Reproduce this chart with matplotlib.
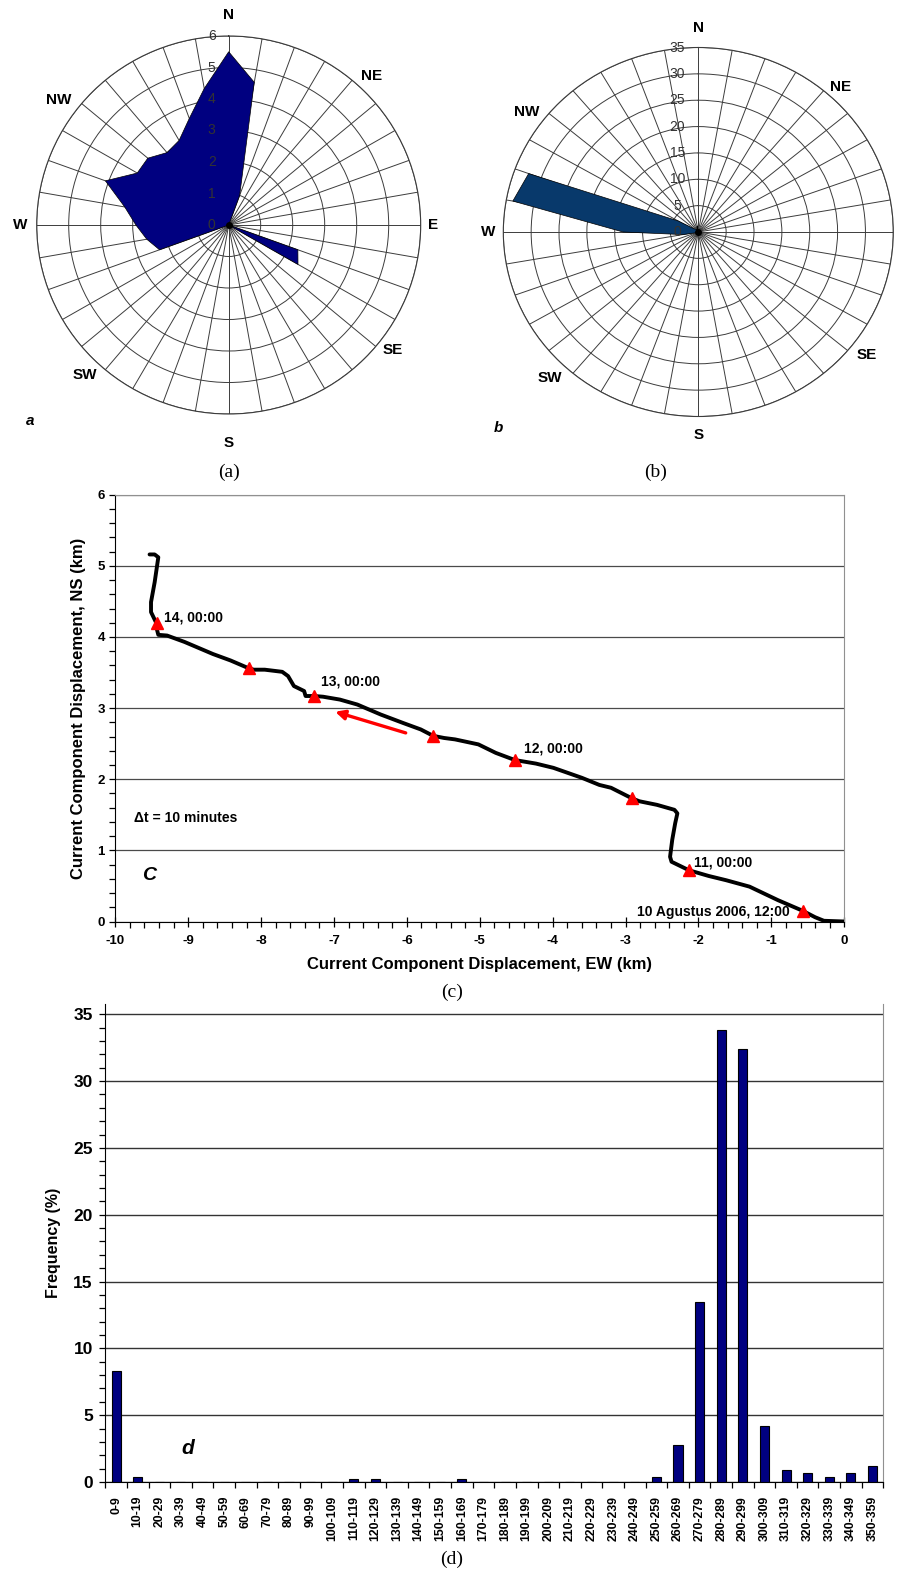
import numpy as np
import matplotlib.pyplot as plt
from matplotlib.ticker import MultipleLocator

plt.rcParams['font.family'] = ['Liberation Sans', 'DejaVu Sans']
plt.rcParams['axes.unicode_minus'] = False

W, H = 904, 1574

# rose diagrams: 36 direction sectors of 10 degrees, frequency (%)
rose_dirs = np.arange(0, 360, 10)
rose_a = [5.5, 4.6, 1.0, 0, 0, 0, 0, 0, 0, 0,
          0, 2.3, 2.5, 0, 0, 0, 0, 0, 0, 0,
          0, 0, 0, 0, 0, 2.3, 2.6, 2.9, 3.3, 4.1,
          3.3, 3.3, 3.0, 3.1, 3.6, 4.4]
rose_b = [0, 0.4, 0, 0, 0, 0, 0, 0, 0, 0,
          0, 0.2, 0.2, 0, 0, 0, 0.2, 0, 0, 0,
          0, 0, 0, 0, 0, 0.4, 2.8, 13.5, 33.8, 32.4,
          4.2, 0.9, 0.7, 0.4, 0.7, 1.2]
compass = ['N', 'NE', 'E', 'SE', 'S', 'SW', 'W', 'NW']

# progressive vector path (km)
track_ew = [0, -0.28, -0.40, -0.57, -0.91, -1.30, -1.62, -1.86, -2.13, -2.37,
            -2.39, -2.36, -2.32, -2.29, -2.33, -2.57, -2.81, -2.91, -3.20, -3.36,
            -3.60, -3.99, -4.23, -4.52, -4.78, -5.02, -5.34, -5.49, -5.64, -5.81,
            -6.05, -6.36, -6.68, -6.92, -7.15, -7.27, -7.39, -7.41, -7.55, -7.63,
            -7.71, -7.95, -8.10, -8.17, -8.42, -8.66, -9.05, -9.29, -9.41, -9.43,
            -9.43, -9.51, -9.51, -9.46, -9.42, -9.41, -9.46, -9.53]
track_ns = [0, 0.01, 0.06, 0.15, 0.30, 0.49, 0.58, 0.64, 0.72, 0.84,
            0.91, 1.15, 1.38, 1.52, 1.57, 1.64, 1.69, 1.73, 1.88, 1.92,
            2.02, 2.16, 2.22, 2.27, 2.37, 2.49, 2.56, 2.58, 2.61, 2.70,
            2.79, 2.91, 3.05, 3.12, 3.16, 3.17, 3.17, 3.24, 3.31, 3.45,
            3.51, 3.54, 3.54, 3.56, 3.67, 3.76, 3.93, 4.02, 4.03, 4.11,
            4.18, 4.35, 4.49, 4.77, 5.05, 5.12, 5.16, 5.16]
mark_ew = [-0.57, -2.13, -2.91, -4.52, -5.64, -7.27, -8.17, -9.43]
mark_ns = [0.15, 0.72, 1.73, 2.27, 2.61, 3.17, 3.56, 4.19]
time_text = ['14, 00:00', '13, 00:00', '12, 00:00', '11, 00:00']
time_ew = [-9.33, -7.18, -4.39, -2.06]
time_ns = [4.27, 3.38, 2.43, 0.83]

# direction histogram
hist_bins = ['%d-%d' % (d, d + 9) for d in range(0, 360, 10)]
hist_freq = [8.3, 0.4, 0, 0, 0, 0, 0, 0, 0, 0,
             0, 0.2, 0.2, 0, 0, 0, 0.2, 0, 0, 0,
             0, 0, 0, 0, 0, 0.4, 2.8, 13.5, 33.8, 32.4,
             4.2, 0.9, 0.7, 0.4, 0.7, 1.2]

fig = plt.figure(figsize=(W / 100, H / 100), dpi=100)


def ftext(x, y, s, **kw):
    fig.text(x / W, 1 - y / H, s, ha='center', va='center', **kw)


def rose(cx, cy, rx, ry, vals, rmax, rstep, fill, labpos, letter, letpos, rdx):
    ax = fig.add_axes([(cx - rx) / W, 1 - (cy + ry) / H, 2 * rx / W, 2 * ry / H],
                      projection='polar')
    ax.set_aspect('auto')
    ax.set_theta_zero_location('N')
    ax.set_theta_direction(-1)
    th = np.deg2rad(rose_dirs)
    ax.fill(np.r_[th, th[:1]], np.r_[vals, vals[:1]], color=fill,
            ec='black', lw=0.5, zorder=2)
    ax.set_rlim(0, rmax)
    rings = np.arange(rstep, rmax + rstep / 2, rstep)
    ax.set_rgrids(rings, labels=[''] * len(rings))
    ax.set_thetagrids(rose_dirs, labels=[''] * len(rose_dirs))
    ax.grid(True, color='#3c3c3c', lw=0.7)
    ax.spines['polar'].set_color('#3c3c3c')
    ax.spines['polar'].set_linewidth(0.8)
    for r in np.r_[0, rings]:
        ax.annotate('%g' % r, xy=(0, r), xytext=(rdx, 0), textcoords='offset pixels',
                    ha='center', va='center', fontsize=10, color='#333333', zorder=5)
    ax.plot([0], [0], 'o', color='black', ms=4, zorder=6)
    for name, (lx, ly) in zip(compass, labpos):
        ftext(lx, ly, name, fontsize=11, fontweight='bold')
    ftext(letpos[0], letpos[1], letter, fontsize=11, fontweight='bold', style='italic')


rose(228.7, 225, 192, 189, rose_a, 6, 1, '#000080',
     [(228.7, 15), (371.7, 76), (433.3, 225), (393, 350), (228.7, 443),
      (85, 375), (20, 225), (58.3, 100)], 'a', (30, 421), -17)
rose(698.3, 232, 195, 184.5, rose_b, 35, 5, '#08396b',
     [(698.3, 28), (840.7, 87), (908, 232), (866.7, 355), (698.3, 435),
      (550, 378), (488, 232), (526.7, 112)], 'b', (498, 428), -21)

serif = ['Liberation Serif', 'DejaVu Serif']
ftext(229, 472, '(a)', fontsize=14, family=serif)
ftext(656, 472, '(b)', fontsize=14, family=serif)
ftext(452, 992, '(c)', fontsize=14, family=serif)
ftext(452, 1559, '(d)', fontsize=14, family=serif)

# panel c
axc = fig.add_axes([115.3 / W, 1 - 921.5 / H, 729 / W, 426.8 / H])
axc.plot(track_ew, track_ns, color='black', lw=2.8, solid_capstyle='round',
         solid_joinstyle='round', zorder=3)
axc.plot(mark_ew, mark_ns, '^', color='#ff0000', ms=9, zorder=4)
for s, x, y in zip(time_text, time_ew, time_ns):
    axc.text(x, y, s, fontsize=10, fontweight='bold', ha='left', va='center')
axc.text(-0.75, 0.14, '10 Agustus 2006, 12:00', fontsize=10, fontweight='bold',
         ha='right', va='center')
axc.text(-9.75, 1.45, '\u0394t = 10 minutes', fontsize=10, fontweight='bold',
         ha='left', va='center')
axc.text(-9.54, 0.65, 'C', fontsize=14, fontweight='bold', style='italic',
         ha='center', va='center')
axc.annotate('', xy=(-7.02, 2.96), xytext=(-5.98, 2.64),
             arrowprops=dict(arrowstyle='-|>', color='#ff0000', lw=2.4,
                             mutation_scale=14))
axc.set_xlim(-10, 0)
axc.set_ylim(0, 6)
axc.xaxis.set_major_locator(MultipleLocator(1))
axc.xaxis.set_minor_locator(MultipleLocator(0.2))
axc.yaxis.set_major_locator(MultipleLocator(1))
axc.yaxis.set_minor_locator(MultipleLocator(0.2))
axc.yaxis.grid(True, color='#4a4a4a', lw=0.9)
axc.tick_params(axis='y', which='both', direction='out', length=4, width=0.9)
axc.tick_params(axis='x', which='major', direction='inout', length=7, width=0.9,
                pad=6)
axc.tick_params(axis='x', which='minor', direction='out', length=4, width=0.9)
axc.tick_params(labelsize=9.5)
for lab in axc.get_xticklabels() + axc.get_yticklabels():
    lab.set_fontweight('bold')
for side in ['top', 'right']:
    axc.spines[side].set_color('#909090')
axc.set_xlabel('Current Component Displacement, EW (km)', fontsize=12,
               fontweight='bold', va='top')
axc.set_ylabel('Current Component Displacement, NS (km)', fontsize=12,
               fontweight='bold')
axc.xaxis.set_label_coords(0.5, -36 / 426.8)
axc.yaxis.set_label_coords(-29 / 729, 0.5)

# panel d
axd = fig.add_axes([105.3 / W, 1 - 1482 / H, 778 / W, 478 / H])
pos = np.arange(len(hist_bins))
axd.bar(pos, hist_freq, width=0.42, color='#000080', edgecolor='black', lw=0.8,
        zorder=3)
axd.set_xlim(-0.5, len(hist_bins) - 0.5)
axd.set_ylim(0, 35 * 478 / 467.7)
axd.set_yticks(np.arange(0, 36, 5))
axd.yaxis.set_minor_locator(MultipleLocator(1))
axd.set_xticks(np.arange(-0.5, len(hist_bins), 1))
axd.set_xticklabels([])
axd.set_xticks(pos, minor=True)
axd.set_xticklabels(hist_bins, minor=True, rotation=90, fontsize=8.8,
                    fontweight='bold')
axd.tick_params(axis='x', which='minor', length=0, pad=10)
axd.tick_params(axis='x', which='major', direction='out', length=4, width=0.9)
axd.tick_params(axis='y', which='both', direction='out', length=4, width=0.9,
                labelsize=12.5, pad=5)
for lab in axd.get_yticklabels():
    lab.set_fontweight('bold')
axd.yaxis.grid(True, color='#333333', lw=1.0)
axd.set_axisbelow(True)
axd.spines['top'].set_visible(False)
axd.spines['right'].set_color('#909090')
axd.set_ylabel('Frequency (%)', fontsize=11.5, fontweight='bold')
axd.yaxis.set_label_coords(-44 / 778, 0.5)
axd.text(3.3, 2.5, 'd', fontsize=15, fontweight='bold', style='italic',
         ha='center', va='center')

fig.savefig('out.png', dpi=100)
